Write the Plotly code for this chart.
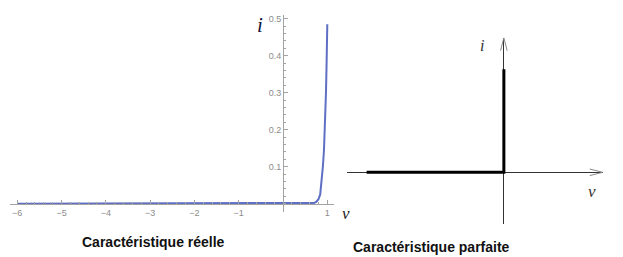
import plotly.graph_objects as go

W, H = 623, 257

v_real = [-6.0, 0.0, 0.6, 0.70, 0.75, 0.80, 0.84, 0.87, 0.90, 0.925, 0.95, 0.97, 0.985, 1.0]
i_real = [0.0, 0.0, 0.0, 0.002, 0.005, 0.012, 0.025, 0.055, 0.10, 0.145, 0.21, 0.30, 0.385, 0.485]

x_tick_vals = [-6, -5, -4, -3, -2, -1, 1]
x_tick_text = ["−6", "−5", "−4", "−3", "−2", "−1", "1"]
y_tick_vals = [0.1, 0.2, 0.3, 0.4, 0.5]
y_tick_text = ["0.1", "0.2", "0.3", "0.4", "0.5"]

# ---- data: ideal characteristic (schematic, normalised) ----
v_ideal = [-1.0, 0.0, 0.0]
i_ideal = [0.0, 0.0, 1.0]
ideal_x_range = [-1.145, 0.72]
ideal_y_range = [-0.502, 1.307]


def px(x):
    return x / W


def py(y):
    return 1 - y / H


AX_GRAY = "#a3a3a3"
fig = go.Figure()

fig.add_trace(go.Scatter(x=v_real, y=i_real, mode="lines",
                         line=dict(color="#5f6fc4", width=2),
                         xaxis="x", yaxis="y", hoverinfo="skip"))

fig.add_trace(go.Scatter(x=v_ideal, y=i_ideal, mode="lines",
                         line=dict(color="#000000", width=3),
                         xaxis="x2", yaxis="y2", hoverinfo="skip"))

# arrow chevrons at the ends of the schematic axes
xspan = ideal_x_range[1] - ideal_x_range[0]
yspan = ideal_y_range[1] - ideal_y_range[0]
xdom_px = 602.7 - 346.7
ydom_px = 224 - 37.7
ux = xspan / xdom_px   # data units per pixel
uy = yspan / ydom_px
L, Wd = 13, 3.3
tx, ty = ideal_x_range[1], ideal_y_range[1]
arr_x = [tx - L * ux, tx, tx - L * ux, None, -Wd * ux, 0, Wd * ux]
arr_y = [Wd * uy, 0, -Wd * uy, None, ty - L * uy, ty, ty - L * uy]
fig.add_trace(go.Scatter(x=arr_x, y=arr_y, mode="lines",
                         line=dict(color="#8a8a8a", width=1),
                         xaxis="x2", yaxis="y2", hoverinfo="skip"))

# left panel axes (Mathematica-like, crossing at origin)
x0_px, x1_px = 10, 334
zero_x_px, unit_x = 283, 44.3
y_top_px, y_bot_px = 15, 212
zero_y_px, unit_y = 203.7, 370.0

fig.update_layout(
    width=W, height=H,
    margin=dict(l=0, r=0, t=0, b=0),
    paper_bgcolor="white", plot_bgcolor="rgba(0,0,0,0)",
    showlegend=False,
    xaxis=dict(
        domain=[px(x0_px), px(x1_px)],
        range=[(x0_px - zero_x_px) / unit_x, (x1_px - zero_x_px) / unit_x],
        anchor="free", position=py(zero_y_px),
        showline=True, linecolor=AX_GRAY, linewidth=1,
        showgrid=False, zeroline=False,
        tickmode="array", tickvals=x_tick_vals, ticktext=x_tick_text,
        ticks="inside", ticklen=4, tickcolor=AX_GRAY, tickwidth=1,
        minor=dict(ticks="inside", ticklen=2, dtick=0.2, tick0=0, tickcolor=AX_GRAY),
        tickfont=dict(family="Liberation Sans", size=9, color="#8c8c8c"),
    ),
    yaxis=dict(
        domain=[py(y_bot_px), py(y_top_px)],
        range=[(zero_y_px - y_bot_px) / unit_y, (zero_y_px - y_top_px) / unit_y],
        anchor="free", position=px(zero_x_px),
        showline=True, linecolor=AX_GRAY, linewidth=1,
        showgrid=False, zeroline=False,
        tickmode="array", tickvals=y_tick_vals, ticktext=y_tick_text,
        ticks="inside", ticklen=4, tickcolor=AX_GRAY, tickwidth=1,
        minor=dict(ticks="inside", ticklen=2, dtick=0.02, tick0=0, tickcolor=AX_GRAY),
        tickfont=dict(family="Liberation Sans", size=9, color="#8c8c8c"),
    ),
    xaxis2=dict(
        domain=[px(346.7), px(602.7)], range=ideal_x_range, anchor="y2",
        showgrid=False, showline=False, showticklabels=False, ticks="",
        zeroline=True, zerolinecolor="#333333", zerolinewidth=1,
    ),
    yaxis2=dict(
        domain=[py(224), py(37.7)], range=ideal_y_range, anchor="x2",
        showgrid=False, showline=False, showticklabels=False, ticks="",
        zeroline=True, zerolinecolor="#333333", zerolinewidth=1,
    ),
)


def label(text, x, y, size, color, family="Liberation Serif", xanchor="center"):
    fig.add_annotation(text=text, x=px(x), y=py(y), xref="paper", yref="paper",
                       showarrow=False, xanchor=xanchor, yanchor="middle",
                       font=dict(family=family, size=size, color=color))


label("<i>i</i>", 260, 25, 21, "#14143a")
label("<i>v</i>", 346, 213, 17, "#222222")
label("<i>i</i>", 482, 45, 16, "#333333")
label("<i>v</i>", 592, 191, 17, "#333333")
label("<b>Caractéristique réelle</b>", 153.5, 242, 14, "#111111", family="Liberation Sans")
label("<b>Caractéristique parfaite</b>", 431, 247, 14, "#111111", family="Liberation Sans")

fig.write_html("out.html")
